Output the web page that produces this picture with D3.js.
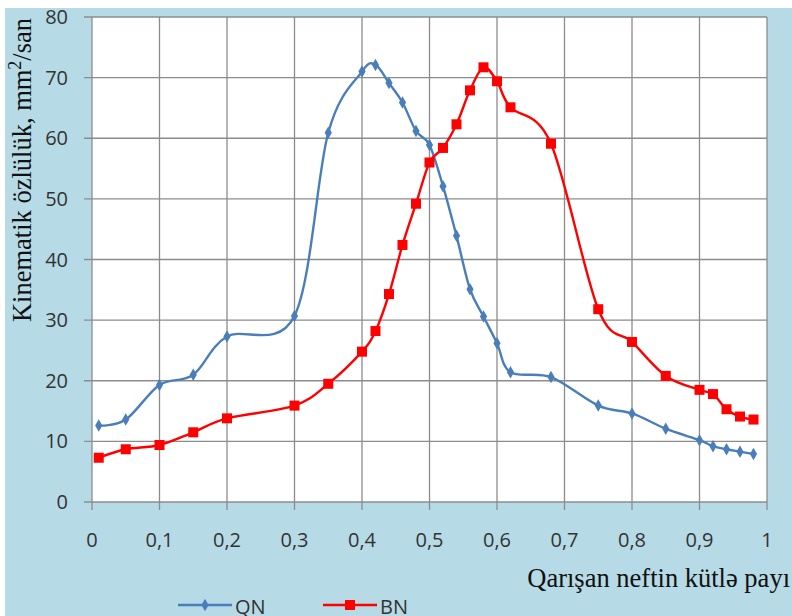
<!DOCTYPE html>
<html>
<head>
<meta charset="utf-8">
<script src="https://cdn.jsdelivr.net/npm/d3@7"></script>
<style>
  body { margin: 0; background: #fff; }
  svg { display: block; }
</style>
</head>
<body>
<script>
var w = 792; // Width of the page
var h = 616; // Height of the page

// Data
var xValues = [0.01, 0.05, 0.1, 0.15, 0.2, 0.3, 0.35, 0.4, 0.42, 0.44, 0.46, 0.48, 0.5, 0.52, 0.54,
               0.56, 0.58, 0.6, 0.62, 0.68, 0.75, 0.8, 0.85, 0.9, 0.92, 0.94, 0.96, 0.98];
var qnValues = [12.6, 13.6, 19.3, 21.0, 27.3, 30.7, 60.9, 71.0, 72.1, 69.1, 65.9, 61.2, 58.9, 52.1, 43.9,
                35.1, 30.6, 26.2, 21.4, 20.6, 15.9, 14.6, 12.1, 10.2, 9.2, 8.7, 8.3, 7.9];
var bnValues = [7.3, 8.7, 9.4, 11.5, 13.8, 15.9, 19.5, 24.8, 28.2, 34.3, 42.4, 49.2, 56.0, 58.4, 62.3,
                67.9, 71.7, 69.4, 65.1, 59.1, 31.8, 26.4, 20.8, 18.5, 17.8, 15.3, 14.1, 13.6];
var seriesNames = ["QN", "BN"];
var xTicks = [0, 0.1, 0.2, 0.3, 0.4, 0.5, 0.6, 0.7, 0.8, 0.9, 1];
var yTicks = [0, 10, 20, 30, 40, 50, 60, 70, 80];

var bg = "#b6dbe6";
var blue = "#4a7ebb";
var red = "#ff0000";

// Plot area
var plotLeft = 92, plotRight = 767, plotTop = 17, plotBottom = 502;

var xScale = d3.scaleLinear().domain([0, 1]).range([plotLeft, plotRight]);
var yScale = d3.scaleLinear().domain([0, 80]).range([plotBottom, plotTop]);

var svg = d3.select("body")
    .append("svg")
    .attr("width", w)
    .attr("height", h);

// Light blue chart background (thin white margin top and left)
svg.append("rect")
    .attr("x", 5).attr("y", 8)
    .attr("width", w - 5).attr("height", h - 8)
    .attr("fill", bg);

// White plot area
svg.append("rect")
    .attr("x", plotLeft).attr("y", plotTop)
    .attr("width", plotRight - plotLeft).attr("height", plotBottom - plotTop)
    .attr("fill", "#fff");

// Grid lines
svg.append("g")
    .selectAll("line")
    .data(yTicks)
    .join("line")
    .attr("x1", plotLeft - 8)
    .attr("x2", plotRight)
    .attr("y1", function(d) { return yScale(d); })
    .attr("y2", function(d) { return yScale(d); })
    .attr("stroke", "#8c8c8c")
    .attr("stroke-width", 1.3);

svg.append("g")
    .selectAll("line")
    .data(xTicks)
    .join("line")
    .attr("x1", function(d) { return xScale(d); })
    .attr("x2", function(d) { return xScale(d); })
    .attr("y1", plotTop)
    .attr("y2", plotBottom + 8)
    .attr("stroke", "#8c8c8c")
    .attr("stroke-width", 1.3);

// Tick labels
var tickFont = "'Open Sans', 'Noto Sans', sans-serif";
svg.append("g")
    .selectAll("text")
    .data(yTicks)
    .join("text")
    .attr("x", 68)
    .attr("y", function(d) { return yScale(d) + 7; })
    .attr("text-anchor", "end")
    .attr("fill", "#333")
    .style("font-family", tickFont)
    .style("font-size", "20px")
    .text(function(d) { return d; });

svg.append("g")
    .selectAll("text")
    .data(xTicks)
    .join("text")
    .attr("x", function(d) { return xScale(d); })
    .attr("y", 547)
    .attr("text-anchor", "middle")
    .attr("fill", "#333")
    .style("font-family", tickFont)
    .style("font-size", "20px")
    .text(function(d) { return String(d).replace(".", ","); });

// Axis titles
var yLabel = svg.append("text")
    .attr("transform", "translate(31," + 170 + ") rotate(-90)")
    .attr("text-anchor", "middle")
    .attr("fill", "#111")
    .style("font-family", "'Liberation Serif', 'DejaVu Serif', serif")
    .style("font-size", "26.5px");
yLabel.append("tspan").text("Kinematik özlülük, mm");
yLabel.append("tspan").attr("dy", -10).style("font-size", "18px").text("2");
yLabel.append("tspan").attr("dy", 10).text("/san");

svg.append("text")
    .attr("x", 790)
    .attr("y", 587)
    .attr("text-anchor", "end")
    .attr("fill", "#111")
    .style("font-family", "'Liberation Serif', 'DejaVu Serif', serif")
    .style("font-size", "26.5px")
    .text("Qarışan neftin kütlə payı");

// Lines (smoothed like the spreadsheet original)
var line = d3.line()
    .x(function(d) { return xScale(d[0]); })
    .y(function(d) { return yScale(d[1]); })
    .curve(d3.curveCatmullRom.alpha(0));

var qnData = xValues.map(function(x, i) { return [x, qnValues[i]]; });
var bnData = xValues.map(function(x, i) { return [x, bnValues[i]]; });

svg.append("path")
    .datum(qnData)
    .attr("d", line)
    .attr("fill", "none")
    .attr("stroke", blue)
    .attr("stroke-width", 2.4);

svg.append("path")
    .datum(bnData)
    .attr("d", line)
    .attr("fill", "none")
    .attr("stroke", red)
    .attr("stroke-width", 2.4);

// Markers
var diamond = d3.symbol().type(d3.symbolDiamond).size(45);
svg.append("g")
    .selectAll("path")
    .data(qnData)
    .join("path")
    .attr("transform", function(d) { return "translate(" + xScale(d[0]) + "," + yScale(d[1]) + ")"; })
    .attr("d", diamond)
    .attr("fill", blue);

svg.append("g")
    .selectAll("rect")
    .data(bnData)
    .join("rect")
    .attr("x", function(d) { return xScale(d[0]) - 5; })
    .attr("y", function(d) { return yScale(d[1]) - 5; })
    .attr("width", 10)
    .attr("height", 10)
    .attr("fill", red);

// Legend
var legend = svg.append("g");
var legendItems = [
    { name: seriesNames[0], color: blue, x: 178 },
    { name: seriesNames[1], color: red, x: 323 }
];
legendItems.forEach(function(item, i) {
    legend.append("line")
        .attr("x1", item.x).attr("x2", item.x + 54)
        .attr("y1", 605).attr("y2", 605)
        .attr("stroke", item.color)
        .attr("stroke-width", 2.4);
    if (i === 0) {
        legend.append("path")
            .attr("transform", "translate(" + (item.x + 27) + ",605)")
            .attr("d", diamond)
            .attr("fill", item.color);
    } else {
        legend.append("rect")
            .attr("x", item.x + 22).attr("y", 600)
            .attr("width", 10).attr("height", 10)
            .attr("fill", item.color);
    }
    legend.append("text")
        .attr("x", item.x + 57)
        .attr("y", 614)
        .attr("fill", "#333")
        .style("font-family", tickFont)
        .style("font-size", "20px")
        .text(item.name);
});
</script>
</body>
</html>
